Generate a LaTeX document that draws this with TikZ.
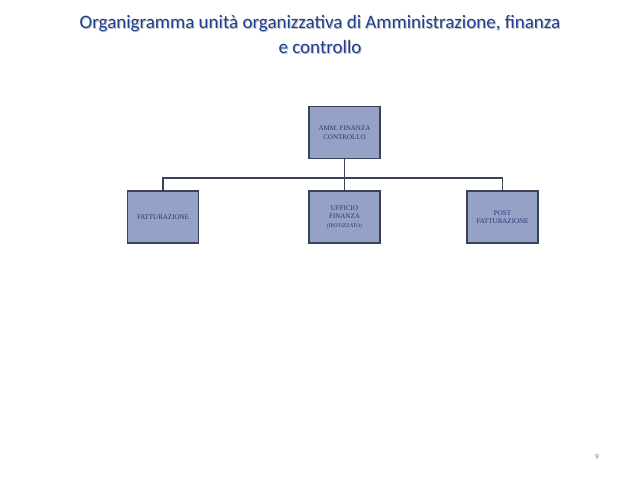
\documentclass[tikz,border=0pt]{standalone}
\usepackage{fontspec}
\setmainfont{Liberation Serif}
\newfontfamily\titlefont{Carlito}
\definecolor{boxfill}{HTML}{95A1C6}
\definecolor{boxline}{HTML}{3A4258}
\definecolor{boxtext}{HTML}{2A3670}
\definecolor{titleblue}{HTML}{1F3F8F}
\begin{document}
\begin{tikzpicture}[x=1pt,y=-1pt,
  orgbox/.style={draw=boxline,line width=1.6pt,fill=boxfill,minimum width=71pt,minimum height=52pt,inner sep=0pt,align=center,text=boxtext,font=\fontsize{7}{8.5}\selectfont},
  link/.style={draw=boxline,line width=1.4pt},
  ttl/.style={font=\titlefont\fontsize{19}{25}\selectfont,align=center}]
\useasboundingbox (0,0) rectangle (638,479);
\fill[white] (0,0) rectangle (638,479);
\node[ttl,text=gray!50] at (321,35.5) {Organigramma unità organizzativa di Amministrazione, finanza\\e controllo};
\node[ttl,text=titleblue] (title) at (320,34.5) {Organigramma unità organizzativa di Amministrazione, finanza\\e controllo};
\node[orgbox] (top) at (344.5,132.5) {AMM. FINANZA\\CONTROLLO};
\node[orgbox] (fat) at (163,217) {FATTURAZIONE};
\node[orgbox] (uff) at (344.5,217) {UFFICIO\\FINANZA\\{\fontsize{5.5}{7}\selectfont(IPOTIZZATO)}};
\node[orgbox] (post) at (502.5,217) {POST\\FATTURAZIONE};
\coordinate (bus) at (344.5,178);
\draw[link] (top.south) -- (bus);
\draw[link] (bus) -| (fat.north);
\draw[link] (bus) -| (post.north);
\draw[link] (bus) -- (uff.north);
\node[font=\titlefont\fontsize{8}{9}\selectfont,text=gray] (pg) at (597,457) {9};
\end{tikzpicture}
\end{document}
